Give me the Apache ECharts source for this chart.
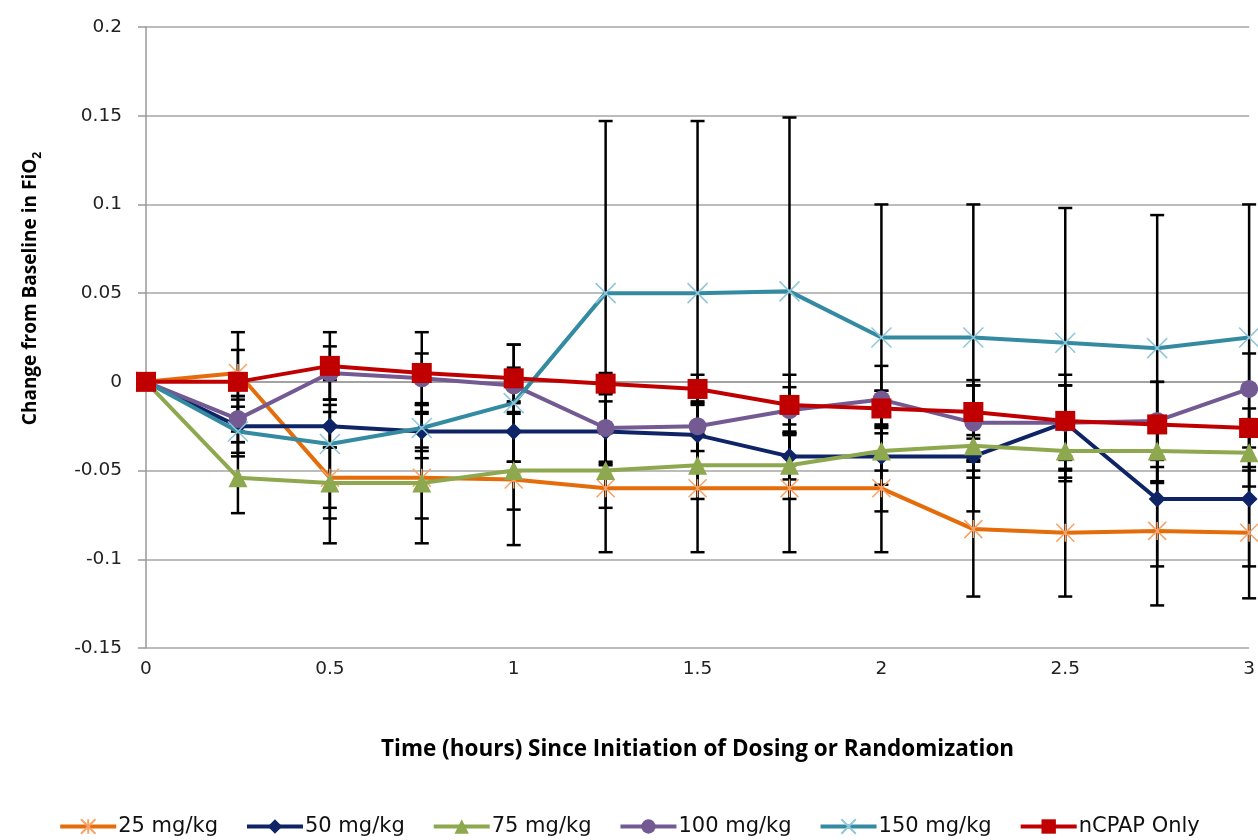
<!DOCTYPE html>
<html>
<head>
<meta charset="utf-8">
<script src="https://cdn.jsdelivr.net/npm/echarts@6/dist/echarts.min.js"></script>
<style>
  html, body { margin: 0; padding: 0; background: #fff; }
  #chart { width: 1258px; height: 840px; }
</style>
</head>
<body>
<div id="chart"></div>
<script>
var times = [0, 0.25, 0.5, 0.75, 1, 1.25, 1.5, 1.75, 2, 2.25, 2.5, 2.75, 3];

var names = ['25 mg/kg', '50 mg/kg', '75 mg/kg', '100 mg/kg', '150 mg/kg', 'nCPAP Only'];

var mean25 = [0, 0.005, -0.054, -0.054, -0.055, -0.06, -0.06, -0.06, -0.06, -0.083, -0.085, -0.084, -0.085];
var mean50 = [0, -0.025, -0.025, -0.028, -0.028, -0.028, -0.030, -0.042, -0.042, -0.042, -0.023, -0.066, -0.066];
var mean75 = [0, -0.054, -0.057, -0.057, -0.050, -0.050, -0.047, -0.047, -0.039, -0.036, -0.039, -0.039, -0.040];
var mean100 = [0, -0.021, 0.005, 0.002, -0.002, -0.026, -0.025, -0.016, -0.010, -0.023, -0.023, -0.022, -0.004];
var mean150 = [0, -0.028, -0.035, -0.026, -0.012, 0.050, 0.050, 0.051, 0.025, 0.025, 0.022, 0.019, 0.025];
var meanCpap = [0, 0, 0.009, 0.005, 0.002, -0.001, -0.004, -0.013, -0.015, -0.017, -0.022, -0.024, -0.026];

// error bar half-widths
var sd25 = [0, 0.013, 0.037, 0.037, 0.037, 0.036, 0.036, 0.036, 0.036, 0.038, 0.036, 0.042, 0.037];
var sd50 = [0, 0.015, 0.012, 0.015, 0.017, 0.017, 0.017, 0.013, 0.016, 0.012, 0.027, 0.038, 0.038];
var sd75 = [0, 0.020, 0.020, 0.020, 0.022, 0.021, 0.019, 0.019, 0.034, 0.037, 0.017, 0.018, 0.019];
var sd100 = [0, 0.013, 0.015, 0.014, 0.010, 0.020, 0.014, 0.013, 0.019, 0.021, 0.021, 0.022, 0.020];
var sd150 = [0, 0.014, 0.036, 0.013, 0.033, 0.097, 0.097, 0.098, 0.075, 0.075, 0.076, 0.075, 0.075];
var sdCpap = [0, 0.028, 0.019, 0.023, 0.019, 0.006, 0.008, 0.017, 0.010, 0.015, 0.020, 0.024, 0.011];

var myChart = echarts.init(document.getElementById('chart'));

var asterisk = 'path://M0,0L10,10M10,0L0,10M5,0L5,10';
var cross = 'path://M0,0L10,10M10,0L0,10';

function pts(m) {
	return times.map(function (t, i) { return [t, m[i]]; });
}
function bars(m, s) {
	var out = [];
	times.forEach(function (t, i) {
		if (s[i] > 0) out.push([t, m[i] - s[i], m[i] + s[i]]);
	});
	return out;
}
function errSeries(m, s) {
	return {
		type: 'custom',
		z: 1,
		silent: true,
		renderItem: function (params, api) {
			var x = api.value(0);
			var top = api.coord([x, api.value(2)]);
			var bot = api.coord([x, api.value(1)]);
			var st = { stroke: '#000', lineWidth: 2.5 };
			return {
				type: 'group',
				children: [
					{ type: 'line', shape: { x1: top[0], y1: top[1], x2: bot[0], y2: bot[1] }, style: st },
					{ type: 'line', shape: { x1: top[0] - 7, y1: top[1], x2: top[0] + 7, y2: top[1] }, style: st },
					{ type: 'line', shape: { x1: bot[0] - 7, y1: bot[1], x2: bot[0] + 7, y2: bot[1] }, style: st }
				]
			};
		},
		data: bars(m, s)
	};
}
function lineSeries(name, m, color, symbol, size, itemStyle, z) {
	return {
		name: name,
		type: 'line',
		z: z,
		data: pts(m),
		symbol: symbol,
		symbolSize: size,
		showAllSymbol: true,
		lineStyle: { color: color, width: 4 },
		itemStyle: itemStyle,
		emphasis: { disabled: true }
	};
}

myChart.setOption({
	animation: false,
	grid: { left: 146, right: 8, top: 27, bottom: 192 },
	legend: {
		bottom: -2,
		left: 'center',
		itemWidth: 56,
		itemHeight: 18,
		itemGap: 27,
		lineStyle: { width: 4 },
		textStyle: { fontFamily: 'DejaVu Sans', fontSize: 21, color: '#111', padding: [0, 0, 0, -3] },
		data: names
	},
	xAxis: {
		type: 'value',
		min: 0,
		max: 3,
		interval: 0.5,
		name: 'Time (hours) Since Initiation of Dosing or Randomization',
		nameLocation: 'middle',
		nameGap: 90,
		nameTextStyle: { fontFamily: 'Open Sans', fontWeight: 'bold', fontSize: 22.5, color: '#000' },
		axisLine: { show: true, lineStyle: { color: '#999', width: 1.5 } },
		axisTick: { show: false },
		axisLabel: { fontFamily: 'DejaVu Sans', fontSize: 18.5, color: '#222', margin: 12 },
		splitLine: { show: false }
	},
	yAxis: {
		type: 'value',
		min: -0.15,
		max: 0.2,
		interval: 0.05,
		name: '{a|Change from Baseline in FiO}{b|2}',
		nameLocation: 'middle',
		nameRotate: 90,
		nameGap: 102,
		nameTextStyle: {
			padding: [0, 0, 0, 98],
			rich: {
				a: { fontFamily: 'Open Sans', fontWeight: 'bold', fontSize: 19, color: '#000', lineHeight: 26 },
				b: { fontFamily: 'Open Sans', fontWeight: 'bold', fontSize: 12, color: '#000', verticalAlign: 'bottom', lineHeight: 26 }
			}
		},
		axisLine: { show: true, lineStyle: { color: '#999', width: 1.5 } },
		axisTick: { show: true, length: 8, lineStyle: { color: '#999', width: 1.5 } },
		axisLabel: { fontFamily: 'DejaVu Sans', fontSize: 18.5, color: '#222', margin: 24 },
		splitLine: { show: true, lineStyle: { color: '#a6a6a6', width: 1.5 } }
	},
	series: [
		errSeries(mean25, sd25),
		errSeries(mean50, sd50),
		errSeries(mean75, sd75),
		errSeries(mean100, sd100),
		errSeries(mean150, sd150),
		errSeries(meanCpap, sdCpap),
		lineSeries(names[0], mean25, '#e46c0a', asterisk, 18, { color: 'transparent', borderColor: '#f7a266', borderWidth: 1.5 }, 2),
		lineSeries(names[1], mean50, '#0f2466', 'diamond', 17, { color: '#0f2466' }, 3),
		lineSeries(names[2], mean75, '#8ea84f', 'triangle', 19, { color: '#8ea84f' }, 4),
		lineSeries(names[3], mean100, '#735a92', 'circle', 18, { color: '#735a92' }, 5),
		lineSeries(names[4], mean150, '#348ba1', cross, 20, { color: 'transparent', borderColor: '#8fc6d8', borderWidth: 1.5 }, 6),
		lineSeries(names[5], meanCpap, '#c00000', 'rect', 20, { color: '#c00000' }, 7)
	]
});

window.addEventListener('resize', function () {
	myChart.resize();
});
</script>
</body>
</html>
